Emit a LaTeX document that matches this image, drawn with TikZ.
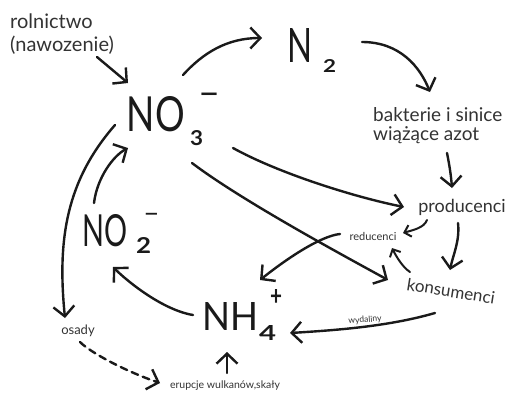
\documentclass[tikz,border=0pt]{standalone}
\usepackage{fontspec}
\setmainfont{Lato}
\usetikzlibrary{arrows.meta}
\definecolor{ink}{HTML}{1A1A1A}
\definecolor{txt}{HTML}{333333}
\begin{document}
\begin{tikzpicture}[x=1pt,y=-1pt,
  conn/.style={draw=ink,line width=2.4pt,line cap=round,-{Straight Barb[length=10pt,width=21pt,line width=2.4pt]}},
  sconn/.style={draw=ink,line width=2pt,line cap=round,-{Straight Barb[length=6pt,width=12pt,line width=2pt]}},
  dconn/.style={conn,dash pattern=on 7pt off 5pt},
  chem/.style={inner sep=0pt,text=ink},
  subsc/.style={inner sep=0pt,text=ink,font=\bfseries},
  lbl/.style={inner sep=0pt,text=txt},
]
\useasboundingbox[fill=white] (0,0) rectangle (509,394);

% texts
\node[lbl,anchor=north west,align=left,font=\fontsize{20}{23}\selectfont] (rol) at (10,14) {rolnictwo\\(nawozenie)};
\node[chem] (no3) at (156,114.5) {\resizebox{58pt}{35pt}{NO}};
\node[subsc] (no3s) at (196.5,138) {\resizebox{13pt}{15pt}{3}};
\node[chem,font=\fontsize{38}{38}\selectfont] (no3m) at (210,99) {–};
\node[chem] (n2) at (299.5,45) {\resizebox{25pt}{34pt}{N}};
\node[subsc] (n2s) at (329.5,66) {\resizebox{13pt}{13pt}{2}};
\node[lbl,anchor=north west,align=left,font=\fontsize{19}{19}\selectfont] (bak) at (373,107) {bakterie i sinice\\wiążące azot};
\node[lbl,font=\fontsize{18}{18}\selectfont] (prod) at (462,207) {producenci};
\node[lbl,font=\fontsize{11}{11}\selectfont] (red) at (373,236) {reducenci};
\node[lbl,font=\fontsize{17}{17}\selectfont,rotate=-9] (kons) at (451,291) {konsumenci};
\node[chem] (nh4) at (230,316) {\resizebox{56pt}{28pt}{NH}};
\node[subsc] (nh4s) at (267.5,332.5) {\resizebox{17pt}{15pt}{4}};
\node[subsc] (nh4p) at (276,297) {\resizebox{12pt}{16pt}{+}};
\node[chem] (no2) at (105.5,231) {\resizebox{45pt}{32pt}{NO}};
\node[subsc] (no2s) at (143.5,245) {\resizebox{15pt}{16pt}{2}};
\node[chem,font=\fontsize{28}{28}\selectfont] (no2m) at (151.5,218) {–};
\node[lbl,font=\fontsize{13}{13}\selectfont] (osa) at (78,331) {osady};
\node[lbl,font=\fontsize{10.5}{10.5}\selectfont] (eru) at (225,386) {erupcje wulkanów,skały};
\node[lbl,font=\fontsize{8.5}{8.5}\selectfont,rotate=4] (wyd) at (365,320) {wydaliny};

% connectors
\draw[conn] ([shift={(87,43)}]rol.north west) -- ([shift={(-28,-31.5)}]no3.center);
\draw[conn] ([shift={(27,-39.5)}]no3.center) .. controls +(20,-22) and +(-35,0) .. ([shift={(-37.5,-7)}]n2.center);
\draw[conn] ([shift={(62.5,-3)}]n2.center) .. controls +(38,0) and +(-10,-25) .. ([shift={(57,-15)}]bak.north west);
\draw[conn] ([shift={(74,46)}]bak.north west) .. controls +(3,15) and +(-1,-12) .. ([shift={(-10,-19)}]prod.center);
\draw[conn] ([shift={(77,33.5)}]no3.center) .. controls +(45,25) and +(-50,-10) .. ([shift={(-58,0)}]prod.center);
\draw[conn] ([shift={(36,48.5)}]no3.center) .. controls +(50,38) and +(-40,-22) .. ([shift={(-63,-11)}]kons.center);
\draw[sconn] ([shift={(-35,13)}]prod.center) .. controls +(-3,8) and +(10,-3) .. ([shift={(30,-3)}]red.center);
\draw[conn] ([shift={(-4,16)}]prod.center) .. controls +(2,18) and +(3,-15) .. ([shift={(-1,-21)}]kons.center);
\draw[conn] ([shift={(-33,-2)}]red.center) .. controls +(-20,2) and +(25,-20) .. ([shift={(30,-36)}]nh4.center);
\draw[sconn] ([shift={(-41,-19)}]kons.center) .. controls +(-8,-5) and +(3,6) .. ([shift={(19,12)}]red.center);
\draw[conn] ([shift={(-16,22)}]kons.center) .. controls +(-45,13) and +(50,-3) .. ([shift={(60,17)}]nh4.center);
\draw[conn] ([shift={(-37,-1)}]nh4.center) .. controls +(-30,-5) and +(15,15) .. ([shift={(7.5,36)}]no2.center);
\draw[conn] ([shift={(-11.5,-28)}]no2.center) .. controls +(3,-25) and +(-15,8) .. ([shift={(-28,33.5)}]no3.center);
\draw[conn] ([shift={(-41,10.5)}]no3.center) .. controls +(-48,55) and +(-8,-80) .. ([shift={(-13,-13)}]osa.center);
\draw[dconn] ([shift={(2,11)}]osa.center) .. controls +(12,12) and +(-30,-10) .. ([shift={(-65,-3)}]eru.center);
\draw[conn] ([shift={(2,-13)}]eru.center) -- ([shift={(-3,36)}]nh4.center);
\end{tikzpicture}
\end{document}
